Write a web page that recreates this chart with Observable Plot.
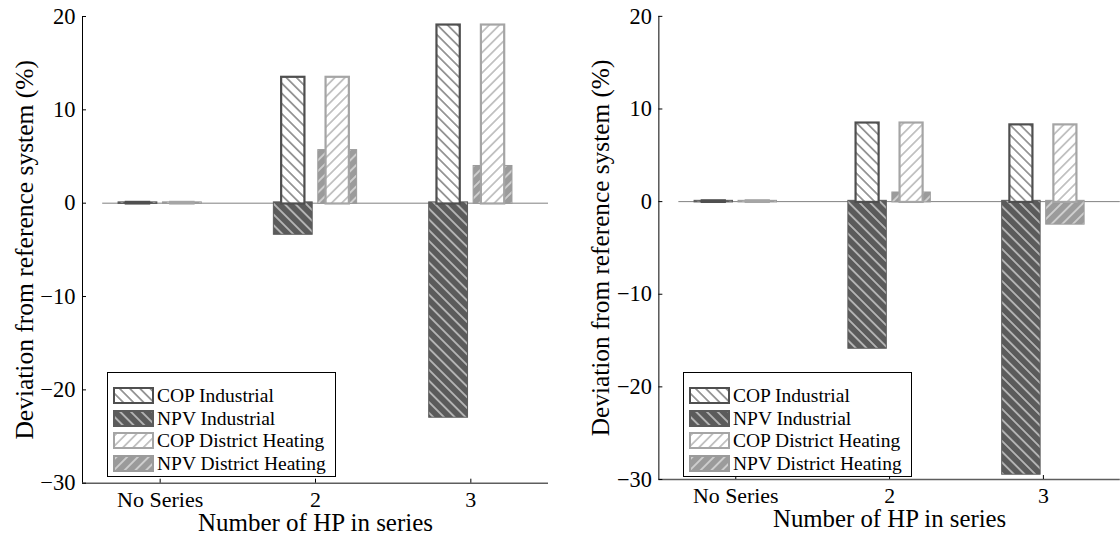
<!DOCTYPE html>
<html><head><meta charset="utf-8">
<script src="https://cdn.jsdelivr.net/npm/d3@7"></script>
<script src="https://cdn.jsdelivr.net/npm/@observablehq/plot@0.6"></script>
<style>
html,body{margin:0;padding:0;background:#fff;overflow:hidden;width:1120px;height:537px}
#wrap{position:relative;width:1120px;height:537px;overflow:hidden;font-family:"Liberation Serif",serif}
.panel{position:absolute;top:0}
.legend{position:absolute;box-sizing:border-box;border:1px solid #000;background:#fff;width:229px;height:105px;top:372px}
.entry{position:absolute;left:5px;height:17px;display:flex;align-items:center}
.entry svg{display:block;flex:none}
.entry span{margin-left:3px;font-size:19.5px;line-height:17px;white-space:nowrap;color:#000}
</style></head><body>
<svg width="0" height="0" style="position:absolute;left:0;top:0"><defs>
<pattern id="hCOPInd" patternUnits="userSpaceOnUse" width="7.2" height="7.2" patternTransform="rotate(-45)">
<rect width="7.2" height="7.2" fill="#fff"/><line x1="3.6" y1="-1" x2="3.6" y2="9" stroke="#505050" stroke-width="1.1"/></pattern>
<pattern id="hNPVInd" patternUnits="userSpaceOnUse" width="7.6" height="7.6" patternTransform="rotate(-45)">
<rect width="7.6" height="7.6" fill="#5b5b5b"/><line x1="3.8" y1="-1" x2="3.8" y2="9" stroke="#f4f4f4" stroke-width="1.1"/></pattern>
<pattern id="hCOPDH" patternUnits="userSpaceOnUse" width="7.2" height="7.2" patternTransform="rotate(45)">
<rect width="7.2" height="7.2" fill="#fff"/><line x1="3.6" y1="-1" x2="3.6" y2="9" stroke="#9a9a9a" stroke-width="1.1"/></pattern>
<pattern id="hNPVDH" patternUnits="userSpaceOnUse" width="7.6" height="7.6" patternTransform="rotate(45)">
<rect width="7.6" height="7.6" fill="#9b9b9b"/><line x1="3.8" y1="-1" x2="3.8" y2="9" stroke="#f4f4f4" stroke-width="1.1"/></pattern>
</defs></svg>
<div id="wrap"></div>
<script>
// ---- data ----
const categories = ["No Series", "2", "3"];
const catPos = [1, 2, 3];
const seriesNames = ["COP Industrial", "NPV Industrial", "COP District Heating", "NPV District Heating"];
const yTicks = [-30, -20, -10, 0, 10, 20];
const xLabel = "Number of HP in series";
const yLabel = "Deviation from reference system (%)";

// left panel
const copIndustrialA = [0, 13.4, 19.0];
const npvIndustrialA = [0, -3.3, -22.9];
const copDistrictA = [0, 13.4, 19.0];
const npvDistrictA = [0, 5.6, 3.9];
// right panel
const copIndustrialB = [0, 8.4, 8.2];
const npvIndustrialB = [0, -15.8, -29.4];
const copDistrictB = [0, 8.4, 8.2];
const npvDistrictB = [0, 0.9, -2.4];

// ---- styles ----
const FONT = "Liberation Serif";
const style = {
  "COP Industrial": {offset: -0.143, half: 0.075, fill: "url(#hCOPInd)", stroke: "#4f4f4f", sw: 2.2},
  "NPV Industrial": {offset: -0.143, half: 0.125, fill: "url(#hNPVInd)", stroke: "#5b5b5b", sw: 1},
  "COP District Heating": {offset: 0.143, half: 0.075, fill: "url(#hCOPDH)", stroke: "#a5a5a5", sw: 2.2},
  "NPV District Heating": {offset: 0.143, half: 0.125, fill: "url(#hNPVDH)", stroke: "#9b9b9b", sw: 1}
};
const drawOrder = ["NPV Industrial", "NPV District Heating", "COP Industrial", "COP District Heating"];

function rowsFor(arrs) {
  const out = [];
  seriesNames.forEach((s, k) => catPos.forEach((p, i) => out.push({series: s, pos: p, value: arrs[k][i]})));
  return out;
}

function panel(arrs, left, width) {
  const rows = rowsFor(arrs);
  const marks = [
    Plot.ruleY([0], {x1: 0.63, x2: 3.5, stroke: "#808080", strokeWidth: 1})
  ];
  for (const s of drawOrder) {
    const st = style[s];
    marks.push(Plot.rect(rows.filter(d => d.series === s), {
      x1: d => d.pos + st.offset - st.half,
      x2: d => d.pos + st.offset + st.half,
      y1: 0, y2: "value",
      fill: st.fill, stroke: st.stroke, strokeWidth: st.sw,
      insetTop: -0.8, insetBottom: -0.8
    }));
  }
  marks.push(
    Plot.ruleY([-30], {stroke: "#5e5e5e", strokeWidth: 1.5}),
    Plot.ruleX([0.5], {stroke: "#000", strokeWidth: 1}),
    Plot.axisX({ticks: catPos, tickFormat: d => categories[catPos.indexOf(d)], tickSize: -4, tickPadding: 12,
      stroke: "#000", fill: "#000", fontFamily: FONT, fontSize: 22, label: xLabel, labelAnchor: "center", labelOffset: 48, labelArrow: "none"}),
    Plot.axisY({ticks: yTicks, tickSize: -4, tickPadding: 11, stroke: "#000", fill: "#000", fontFamily: FONT, fontSize: 22.5,
      label: yLabel, labelAnchor: "center", labelOffset: 68, labelArrow: "none"})
  );
  const svg = Plot.plot({
    width, height: 537,
    marginLeft: 82, marginRight: 0, marginTop: 16, marginBottom: 54.3,
    style: "background: transparent; overflow: visible; color: #000; font-family: 'Liberation Serif', serif; font-size: 22.5px;",
    x: {domain: [0.5, 3.5]},
    y: {domain: [-30, 20]},
    marks
  });
  svg.querySelectorAll("g[aria-label]").forEach(g => {
    const a = g.getAttribute("aria-label");
    if (a === "x-axis label") g.setAttribute("font-size", "25");
    if (a === "y-axis label") g.setAttribute("font-size", "25.5");
  });
  const div = document.createElement("div");
  div.className = "panel";
  div.style.left = left + "px";
  div.appendChild(svg);
  document.getElementById("wrap").appendChild(div);
}

function legend(left) {
  const box = document.createElement("div");
  box.className = "legend";
  box.style.left = left + "px";
  seriesNames.forEach((s, i) => {
    const st = style[s];
    const e = document.createElement("div");
    e.className = "entry";
    e.style.top = (14 + i * 22.7) + "px";
    e.innerHTML = `<svg width="41" height="17"><rect x="1" y="1" width="39" height="15" fill="${st.fill}" stroke="${st.stroke}" stroke-width="2"/></svg><span>${s}</span>`;
    box.appendChild(e);
  });
  document.getElementById("wrap").appendChild(box);
}

panel([copIndustrialA, npvIndustrialA, copDistrictA, npvDistrictA], 0, 548);
panel([copIndustrialB, npvIndustrialB, copDistrictB, npvDistrictB], 577.2, 547);
legend(107);
legend(683);
</script>
</body></html>
